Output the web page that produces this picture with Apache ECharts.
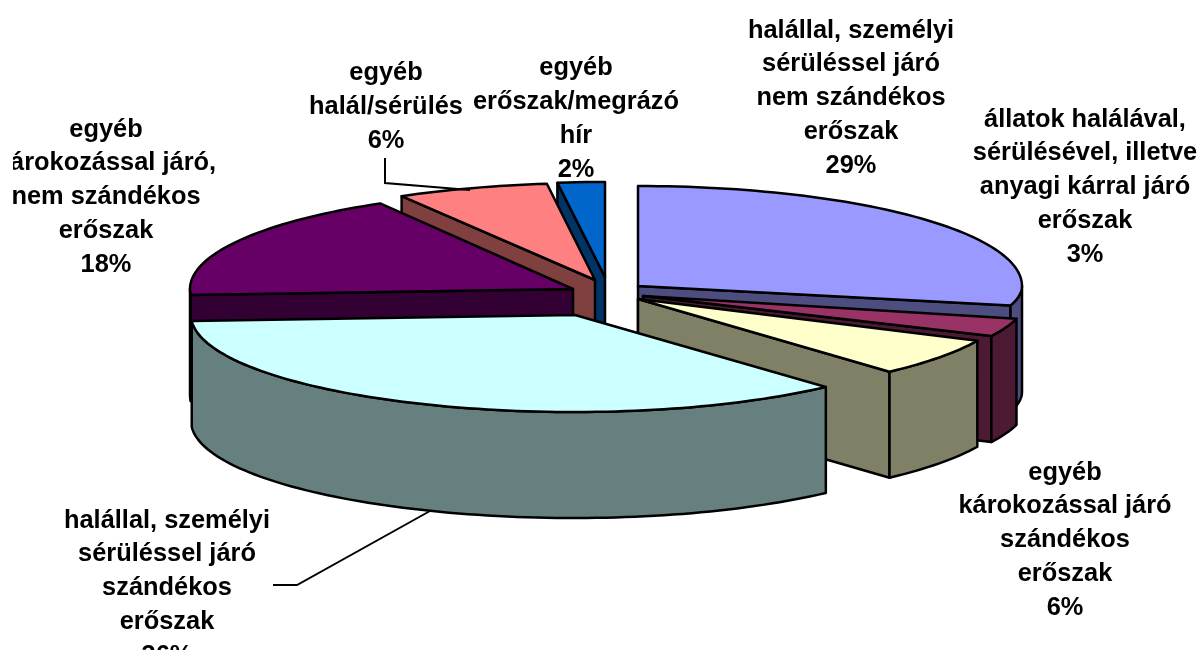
<!DOCTYPE html>
<html>
<head>
<meta charset="utf-8">
<style>html,body{margin:0;padding:0;background:#fff}#chart{width:1200px;height:650px}</style>
<script src="https://cdn.jsdelivr.net/npm/echarts@6/dist/echarts.min.js"></script>
</head>
<body>
<div id="chart"></div>
<script>
// Data: shares in percent, clockwise from 12 o'clock
const categories = [
  ['halállal, személyi', 'sérüléssel járó', 'nem szándékos', 'erőszak'],
  ['állatok halálával,', 'sérülésével, illetve', 'anyagi kárral járó', 'erőszak'],
  ['egyéb', 'károkozással járó', 'szándékos', 'erőszak'],
  ['halállal, személyi', 'sérüléssel járó', 'szándékos', 'erőszak'],
  ['egyéb', 'károkozással járó,', 'nem szándékos', 'erőszak'],
  ['egyéb', 'halál/sérülés'],
  ['egyéb', 'erőszak/megrázó', 'hír']
];
const values = [28.9, 3.1, 6.3, 35.7, 17.6, 6.4, 2.0];

// Styling
const topColors  = ['#9999FF', '#993366', '#FFFFCC', '#CCFFFF', '#660066', '#FF8080', '#0066CC'];
const wallColors = ['#4D4D80', '#4D1A33', '#808066', '#668080', '#330033', '#804040', '#003366'];
const paintOrder = [1, 5, 6, 7, 4, 3, 2];
// exploded slice placement: apex x/y, radii right/left/back/front
const apexX = [638, 643, 638, 575, 573, 595, 605];
const apexY = [286, 296, 299, 315, 289, 280, 277];
const radR  = [384, 385, 375, 374, 384, 384, 384];
const radL  = [384, 384, 384, 384, 383, 384, 380];
const radB  = [100, 97, 97, 97, 99, 97, 95];
const radF  = [80, 94, 98, 97, 97, 97, 97];
const depth = 106;
const labelX = [851, 1085, 1065, 167, 106, 386, 576];
const labelY = [98, 187, 540, 588, 197, 107, 119];
const leaderLines = [
  [[385, 158], [385, 183], [470, 190]],
  [[273, 585], [297, 585], [430, 511]]
];

const total = values.reduce((a, b) => a + b, 0);
const startPct = values.map((v, i) => values.slice(0, i).reduce((a, b) => a + b, 0));

function point(i, deg, dz) {
  const r = deg * Math.PI / 180, s = Math.sin(r), c = Math.cos(r);
  return [
    apexX[i] + (s >= 0 ? radR[i] : radL[i]) * s,
    apexY[i] - (c >= 0 ? radB[i] : radF[i]) * c + (dz || 0)
  ];
}
function arc(i, a, b, dz) {
  const pts = [], n = Math.max(2, Math.ceil(Math.abs(b - a) / 1.5));
  for (let k = 0; k <= n; k++) pts.push(point(i, a + (b - a) * k / n, dz));
  return pts;
}
function poly(points, fill, z2) {
  return { type: 'polygon', z2, shape: { points },
    style: { fill, stroke: '#000', lineWidth: 2.5, lineJoin: 'round' } };
}

function renderItem(params, api) {
  const i = params.dataIndex;
  const v = api.value(0), st = api.value(1);
  const a = st / total * 360, b = (st + v) / total * 360;
  const z = paintOrder[i] * 10;
  const apex = [apexX[i], apexY[i]];
  const apexLow = [apexX[i], apexY[i] + depth];
  const children = [];
  // only the cut faces that turn towards the viewer
  const faces = [];
  if (a >= 180) faces.push(a);
  if (b <= 180) faces.push(b);
  faces.forEach(ang => {
    children.push(poly([apex, point(i, ang), point(i, ang, depth), apexLow], wallColors[i], z));
  });
  const wa = Math.max(a, 90), wb = Math.min(b, 270);
  if (wb > wa) {
    children.push(poly(arc(i, wa, wb, 0).concat(arc(i, wb, wa, depth)), wallColors[i], z + 1));
  }
  children.push(poly([apex].concat(arc(i, a, b, 0)), topColors[i], z + 2));
  const lines = categories[i].concat([Math.round(v) + '%']);
  children.push({ type: 'text', z2: 200, x: labelX[i], y: labelY[i],
    style: { text: lines.join('\n'), fill: '#000', align: 'center', verticalAlign: 'middle',
      font: 'bold 25.4px "Liberation Sans", Arial, sans-serif', lineHeight: 33.75 } });
  return { type: 'group', children };
}

const chart = echarts.init(document.getElementById('chart'), null, { renderer: 'canvas' });
chart.setOption({
  animation: false,
  backgroundColor: '#fff',
  series: [{
    type: 'custom', coordinateSystem: 'none', silent: true, clip: false,
    renderItem, data: values.map((v, i) => [v, startPct[i]])
  }],
  graphic: leaderLines.map(pts => ({
    type: 'polyline', z: 50, shape: { points: pts }, style: { stroke: '#000', lineWidth: 2, fill: null }
  })).concat([
    { type: 'rect', z: 60, shape: { x: 0, y: 100, width: 13, height: 180 }, style: { fill: '#fff' } }
  ])
});
</script>
</body>
</html>
